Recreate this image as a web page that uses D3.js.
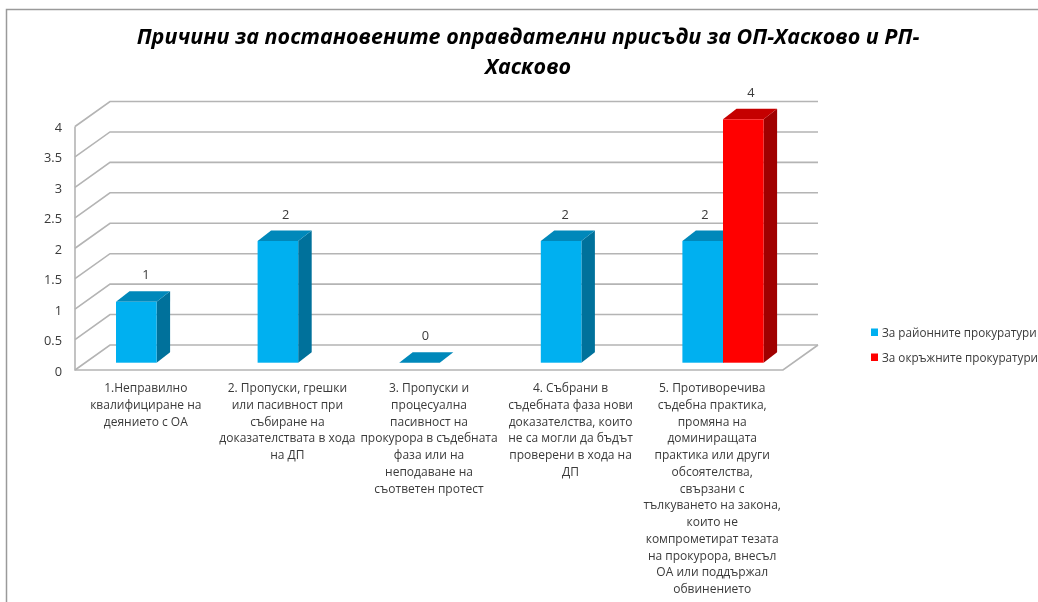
<!DOCTYPE html>
<html><head><meta charset="utf-8">
<script src="https://cdn.jsdelivr.net/npm/d3@7"></script>
<style>
html,body{margin:0;padding:0;background:#fff;overflow:hidden}
svg{display:block;filter:blur(0.35px)}
text{font-family:"Open Sans",sans-serif;fill:#3a3a3a}
</style></head><body>
<svg id="c" width="1038" height="602"></svg>
<script>
const titleLines = ["Причини за постановените оправдателни присъди за ОП-Хасково и РП-", "Хасково"];
const categories = ["c1","c2","c3","c4","c5"];
const categoryLabels = [
 ["1.Неправилно","квалифициране на","деянието с ОА"],
 ["2. Пропуски, грешки","или пасивност при","събиране на","доказателствата в хода","на ДП"],
 ["3. Пропуски и","процесуална","пасивност на","прокурора в съдебната","фаза или на","неподаване на","съответен протест"],
 ["4. Събрани в","съдебната фаза нови","доказателства, които","не са могли да бъдът","проверени в хода на","ДП"],
 ["5. Противоречива","съдебна практика,","промяна на","доминиращата","практика или други","обсоятелства,","свързани с","тълкуването на закона,","които не","компрометират тезата","на прокурора, внесъл","ОА или поддържал","обвинението"]
];
const seriesNames = ["За районните прокуратури","За окръжните прокуратури"];
const districtValues = [1,2,0,2,2];
const regionalValues = [null,null,null,null,4];
const tickValues = [0,0.5,1,1.5,2,2.5,3,3.5,4];
const tickLabels = ["0","0.5","1","1.5","2","2.5","3","3.5","4"];
const faceColors = [{front:"#00b0f0",top:"#0088ba",side:"#00719b"},{front:"#ff0000",top:"#c50000",side:"#a00000"}];

const svg = d3.select("#c");
const root = svg.append("g");

// page frame
root.append("path").attr("d","M6.5 602V9.5H1038").attr("fill","none").attr("stroke","#9a9a9a").attr("stroke-width",1.5);

// title
root.append("g").selectAll("text").data(titleLines).join("text")
 .attr("x",528).attr("y",(d,i)=>44+i*30).attr("text-anchor","middle")
 .style("font-size","21.5px").style("font-weight",700).style("font-style","italic").style("fill","#000")
 .text(d=>d);

// 3D geometry
const wallDX=35, wallDY=-25, barDX=13.5, barDY=-10.5;
const y = d3.scaleLinear().domain([0,4]).range([370,126.5]);   // front-plane value axis
const barY = d3.scaleLinear().domain([0,4]).range([362.7,119.3]);
const x = d3.scaleBand().domain(categories).range([75,783]);
const labelX = d3.scalePoint().domain(categories).range([146,705]);
const grid = root.append("g").attr("fill","none").attr("stroke","#b4b4b4").attr("stroke-width",1.6);
grid.selectAll("path").data(tickValues).join("path")
 .attr("d",v=>`M75 ${y(v)}L${75+wallDX} ${y(v)+wallDY}H818`);
grid.append("path").attr("d",`M75 ${y(4)}V${y(0)}H783L818 ${y(0)+wallDY}`);
root.append("g").selectAll("text").data(tickValues).join("text")
 .attr("x",62).attr("y",v=>y(v)+5.5).attr("text-anchor","end")
 .style("font-size","12.8px").text((v,i)=>tickLabels[i]);

// bars
const barW = 40.6;
const bars=[];
categories.forEach((c,i)=>{
 [districtValues[i],regionalValues[i]].forEach((v,s)=>{
  if(v===null) return;
  bars.push({c,x:x(c)+41+s*barW,v,s});
 });
});
const g=root.append("g");
bars.forEach(b=>{
 const c=faceColors[b.s], t=barY(b.v), bt=barY(0), l=b.x, r=b.x+barW;
 if(b.v>0) g.append("path").attr("fill",c.side).attr("d",`M${r} ${t}l${barDX} ${barDY}V${bt+barDY}L${r} ${bt}Z`);
 g.append("path").attr("fill",c.top).attr("d",`M${l} ${t}l${barDX} ${barDY}H${r+barDX}L${r} ${t}Z`);
 if(b.v>0) g.append("rect").attr("fill",c.front).attr("x",l).attr("y",t).attr("width",barW).attr("height",bt-t);
});
// data labels
root.append("g").selectAll("text").data(bars).join("text")
 .attr("x",d=>labelX(d.c)+d.s*46).attr("y",d=>barY(d.v)-22.5).attr("text-anchor","middle")
 .style("font-size","12.8px").text(d=>d.v);

// category labels
categories.forEach((c,i)=>{
 root.append("g").selectAll("text").data(categoryLabels[i]).join("text")
  .attr("x",x(c)+x.bandwidth()/2).attr("y",(d,j)=>392+j*16.75).attr("text-anchor","middle")
  .style("font-size","12px").text(d=>d);
});

// legend
const leg=root.append("g").selectAll("g").data(seriesNames).join("g")
 .attr("transform",(d,i)=>`translate(871,${328.5+i*25})`);
leg.append("rect").attr("width",7).attr("height",7.5).attr("fill",(d,i)=>faceColors[i].front);
leg.append("text").attr("x",11).attr("y",8).style("font-size","11.7px").text(d=>d);
</script></body></html>
